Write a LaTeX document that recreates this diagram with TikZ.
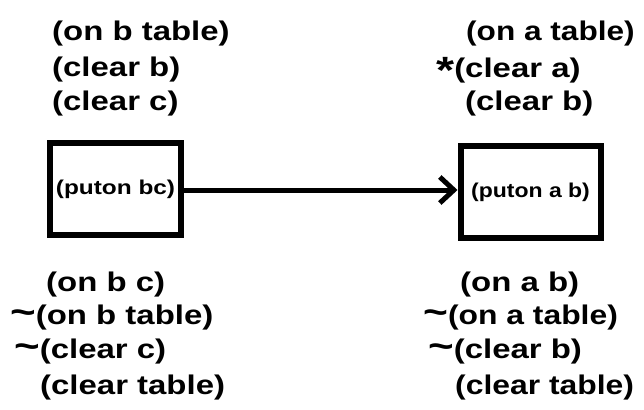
\documentclass[tikz,border=0pt]{standalone}
\usepackage{fontspec}
\setmainfont{Liberation Sans}
\usetikzlibrary{arrows.meta}
\newcommand\hw[2][1.22]{\scalebox{#1}[1]{#2}}
\newcommand\tl{{\fontsize{36}{36}\selectfont\textasciitilde}}
\newcommand\bigstar{\raisebox{-6pt}{\fontsize{38}{38}\selectfont *}}
\begin{document}
\begin{tikzpicture}[x=1pt,y=-1pt,
  lbl/.style={anchor=west,inner sep=0pt,font=\fontsize{27}{29}\selectfont\bfseries},
  act/.style={draw,line width=6pt,minimum width=#1,minimum height=92pt,inner sep=0pt,font=\fontsize{20}{22}\selectfont\bfseries},
  conn/.style={line width=5pt,-{Straight Barb[length=14pt,width=26pt,line width=5pt]}}]
\useasboundingbox (0,0) rectangle (644,409);
% top-left preconditions
\node[lbl] (tl1) at (52,34) {\hw{(on b table)}};
\node[lbl] (tl2) at (52,70) {\hw{(clear b)}};
\node[lbl] (tl3) at (52,104) {\hw{(clear c)}};
% top-right preconditions
\node[lbl] (tr1) at (466,34) {\hw[1.17]{(on a table)}};
\node[lbl] (tr2) at (436,70) {\hw{\bigstar(clear a)}};
\node[lbl] (tr3) at (465,104) {\hw{(clear b)}};
% action boxes
\node[act=131pt] (A) at (115.5,189) {\scalebox{1.22}[1]{(puton bc)}};
\node[act=140pt] (B) at (530.5,192) {\scalebox{1.15}[1]{(puton a b)}};
\draw[conn] (A.east |- 0,190) coordinate (s) -- (B.west |- s);
% bottom-left effects
\node[lbl] (bl1) at (46,285) {\hw{(on b c)}};
\node[lbl] (bl2) at (10,318) {\hw{\tl(on b table)}};
\node[lbl] (bl3) at (14,352) {\hw{\tl(clear c)}};
\node[lbl] (bl4) at (40,388) {\hw{(clear table)}};
% bottom-right effects
\node[lbl] (br1) at (460,285) {\hw{(on a b)}};
\node[lbl] (br2) at (423,318) {\hw[1.18]{\tl(on a table)}};
\node[lbl] (br3) at (428,352) {\hw{\tl(clear b)}};
\node[lbl] (br4) at (455,388) {\hw[1.18]{(clear table)}};
\end{tikzpicture}
\end{document}
